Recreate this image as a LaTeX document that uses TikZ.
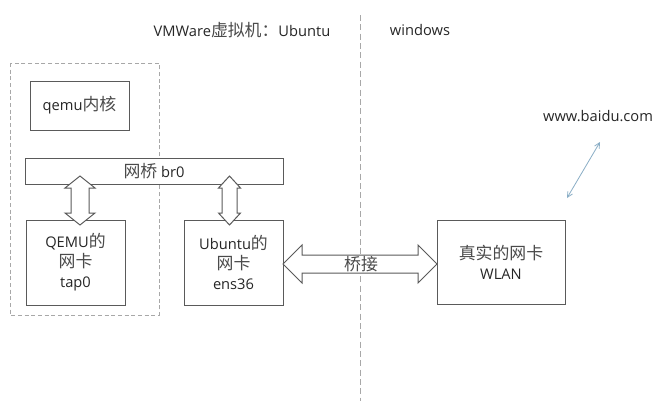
\documentclass[tikz,border=0pt]{standalone}
\usepackage{fontspec}
\setmainfont{Open Sans}
\newfontfamily\cjk[Scale=1.15]{Noto Sans CJK SC}
\usetikzlibrary{arrows.meta}
\definecolor{boxline}{HTML}{5A5A5A}
\definecolor{dashgray}{HTML}{A8A8A8}
\definecolor{txt}{HTML}{262626}
\definecolor{zhtxt}{HTML}{4A4A4A}
\definecolor{linkblue}{HTML}{8AAEC6}
\newcommand{\zh}[1]{{\cjk\color{zhtxt}#1}}
% vertical block double arrow: cx, y1, y2, shaft half, head half, head length
\newcommand{\vblockarrow}[6]{%
  \draw[blockarrow] (#1,#2) -- ({#1+#5},{#2+#6}) -- ({#1+#4},{#2+#6}) -- ({#1+#4},{#3-#6})
    -- ({#1+#5},{#3-#6}) -- (#1,#3) -- ({#1-#5},{#3-#6}) -- ({#1-#4},{#3-#6})
    -- ({#1-#4},{#2+#6}) -- ({#1-#5},{#2+#6}) -- cycle;}
% horizontal block double arrow: cy, x1, x2, shaft half, head half, head length
\newcommand{\hblockarrow}[6]{%
  \draw[blockarrow] (#2,#1) -- ({#2+#6},{#1-#5}) -- ({#2+#6},{#1-#4}) -- ({#3-#6},{#1-#4})
    -- ({#3-#6},{#1-#5}) -- (#3,#1) -- ({#3-#6},{#1+#5}) -- ({#3-#6},{#1+#4})
    -- ({#2+#6},{#1+#4}) -- ({#2+#6},{#1+#5}) -- cycle;}
\begin{document}
\begin{tikzpicture}[x=0.75pt,y=-0.75pt,
  every node/.style={font=\fontsize{11}{15}\selectfont, text=txt},
  box/.style={draw=boxline, line width=0.75pt, fill=white, inner sep=0pt, align=center},
  blockarrow/.style={draw=boxline, line width=0.75pt, fill=white, line join=miter},
  sepline/.style={draw=dashgray, line width=0.75pt, dash pattern=on 4.5pt off 2.5pt}]
\useasboundingbox[fill=white] (0,0) rectangle (660,401);
% vertical separator and VM container
\draw[sepline] (360,15) -- (360,401);
\draw[sepline, dash pattern=on 3pt off 2pt] (10,63) rectangle (159,315);
% titles
\node (title1) at (242,30) {VMWare\zh{虚拟机：}Ubuntu};
\node (title2) at (420,30) {windows};
% boxes
\node[box, minimum width=74.25pt, minimum height=36.75pt] (qemu) at (79.5,105.5) {qemu\zh{内核}};
\node[box, minimum width=193.5pt, minimum height=19.5pt] (br0) at (154,171) {\zh{网桥} br0};
\node[box, minimum width=74.25pt, minimum height=63.75pt] (tap) at (75.5,262.5) {QEMU\zh{的}\\\zh{网卡}\\tap0};
\node[box, minimum width=74.25pt, minimum height=63.75pt] (ens) at (233.5,262.5) {Ubuntu\zh{的}\\\zh{网卡}\\ens36};
\node[box, minimum width=96pt, minimum height=63pt] (wlan) at (501,262) {\zh{真实的网卡}\\WLAN};
\node (baidu) at (598,116) {www.baidu.com};
% block arrows
\vblockarrow{80}{176}{225}{9}{15}{12}
\vblockarrow{229.5}{176}{225}{7.5}{11}{12}
\hblockarrow{264}{283}{437}{9}{19}{19}
\node (bridge) at (361,264) {\zh{桥接}};
% link to internet
\coordinate (wlanlink) at (567,198);
\coordinate (baidulink) at (600,142);
\draw[linkblue, line width=0.6pt, {Straight Barb[length=4pt,width=4pt]}-{Straight Barb[length=4pt,width=4pt]}] (wlanlink) -- (baidulink);
\end{tikzpicture}
\end{document}
